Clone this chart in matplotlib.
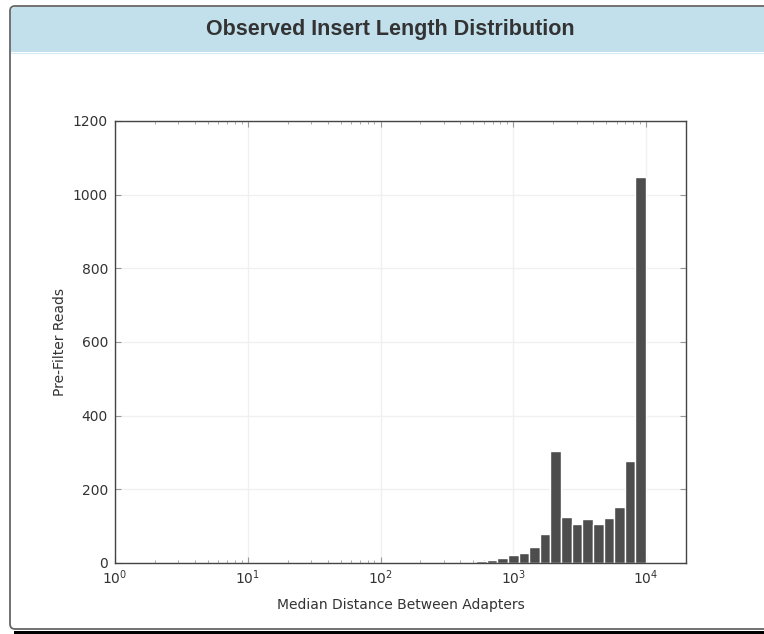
import numpy as np
import matplotlib
matplotlib.use("Agg")
from matplotlib import pyplot as plt
from matplotlib.patches import FancyBboxPatch, Rectangle
from matplotlib.transforms import IdentityTransform

# histogram: 50 log-spaced bins between 10^0 and 10^4, only the upper bins are non-empty
first_bin = 33
counts = [1, 5, 9, 14, 22, 26, 43, 80, 305, 126, 105, 119, 105, 122, 151, 276, 1048]
n_bins = 50

title = "Observed Insert Length Distribution"
xlabel = "Median Distance Between Adapters"
ylabel = "Pre-Filter Reads"

edges = np.logspace(0, 4, n_bins + 1)
left = edges[first_bin:first_bin + len(counts)]
widths = edges[first_bin + 1:first_bin + len(counts) + 1] - left

fig = plt.figure(figsize=(7.64, 6.34), dpi=100)

# panel frame (display / pixel coords)
ident = IdentityTransform()
header = FancyBboxPatch((11, 560), 800, 67, boxstyle="round,pad=0,rounding_size=5",
                        transform=ident, facecolor="#c1e0ec", edgecolor="none", zorder=0)
fig.add_artist(header)
fig.add_artist(Rectangle((11, 2), 800, 580, transform=ident, facecolor="white",
                         edgecolor="none", zorder=0.5))
fig.add_artist(Rectangle((11, 580), 800, 1.5, transform=ident, facecolor="#d6ecf4",
                         edgecolor="none", zorder=0.6))
border = FancyBboxPatch((10, 5), 800, 623, boxstyle="round,pad=0,rounding_size=5",
                        transform=ident, facecolor="none", edgecolor="#666666",
                        linewidth=1.3, zorder=1)
fig.add_artist(border)
fig.add_artist(Rectangle((14, 0), 800, 3.5, transform=ident, facecolor="black",
                         edgecolor="none", zorder=1.1))
fig.text(0.5105, 0.953, title, ha="center", va="center", fontsize=15.5,
         fontweight="bold", family="Liberation Sans", color="#333333", zorder=2)

ax = fig.add_axes([0.1505, 0.112, 0.7474, 0.6972])
ax.set_zorder(5)
ax.patch.set_alpha(0)
ax.bar(left, counts, width=widths, align="edge", color="#4d4d4d",
       edgecolor="white", linewidth=1, zorder=2)
ax.set_xscale("log")
ax.set_xlim(1, 20000)
ax.set_ylim(0, 1200)
ax.set_yticks(range(0, 1201, 200))
ax.grid(True, which="major", color="#f0f0f0", linewidth=1, zorder=0)
ax.set_axisbelow(True)
ax.tick_params(which="both", direction="in", top=True, right=True,
               colors="#999999", labelcolor="#333333", labelsize=10)
ax.tick_params(which="major", length=4)
ax.tick_params(which="minor", length=2)
ax.tick_params(axis="x", which="major", pad=4)
ax.tick_params(axis="y", which="major", pad=5)
for s in ax.spines.values():
    s.set_color("#444444")
    s.set_linewidth(1)
ax.set_xlabel(xlabel, fontsize=10, color="#333333", labelpad=8)
ax.set_ylabel(ylabel, fontsize=10, color="#333333", labelpad=4.5)

fig.savefig("out.png", dpi=100)
